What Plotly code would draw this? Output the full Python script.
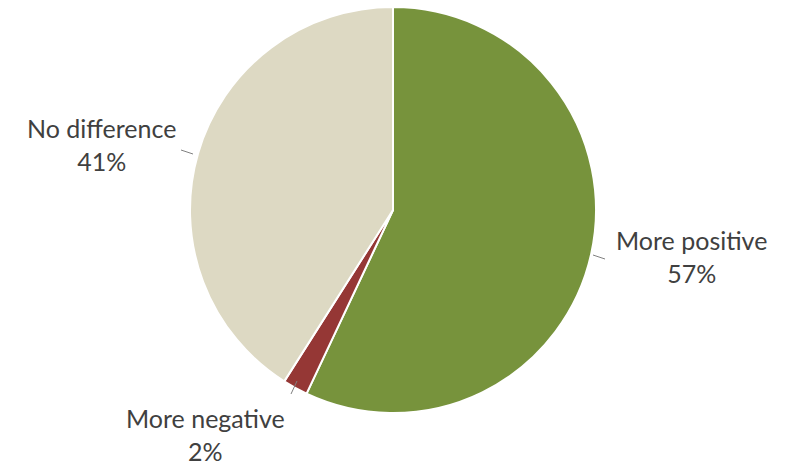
import plotly.graph_objects as go

W, H = 786, 466

labels = ["More positive", "More negative", "No difference"]
values = [57, 2, 41]
colors = ["#77933C", "#953735", "#DDD9C3"]


def px_x(x):
    return x / W


def px_y(y):
    return 1 - y / H


fig = go.Figure(
    go.Pie(
        labels=labels,
        values=values,
        sort=False,
        direction="clockwise",
        rotation=0,
        textinfo="none",
        hoverinfo="label+percent",
        marker={"colors": colors, "line": {"color": "white", "width": 2}},
        domain={"x": [px_x(190), px_x(596)], "y": [px_y(413), px_y(7)]},
    )
)

# label positions (pixel centres) and leader lines
label_pos = [(691, 256), (205, 434), (101, 144)]
leaders = [((593, 255), (605, 259)), ((297, 381), (291, 394)), ((181, 150), (193, 154))]

annotations = []
shapes = []
for lab, val, (cx, cy), (p0, p1) in zip(labels, values, label_pos, leaders):
    annotations.append(
        dict(
            x=px_x(cx), y=px_y(cy), xref="paper", yref="paper",
            text=f"{lab}<br>{val}%", showarrow=False,
            xanchor="center", yanchor="middle", align="center",
            font={"family": "Lato, Open Sans, sans-serif", "size": 25, "color": "#404040"},
        )
    )
    shapes.append(
        dict(
            type="line", xref="paper", yref="paper",
            x0=px_x(p0[0]), y0=px_y(p0[1]), x1=px_x(p1[0]), y1=px_y(p1[1]),
            line={"color": "#808080", "width": 1},
        )
    )

fig.update_layout(
    width=W,
    height=H,
    margin={"l": 0, "r": 0, "t": 0, "b": 0},
    paper_bgcolor="white",
    showlegend=False,
    annotations=annotations,
    shapes=shapes,
)

fig.write_html(
    "out.html",
    config={"displayModeBar": False},
    post_script="document.body.style.margin='0';",
)
